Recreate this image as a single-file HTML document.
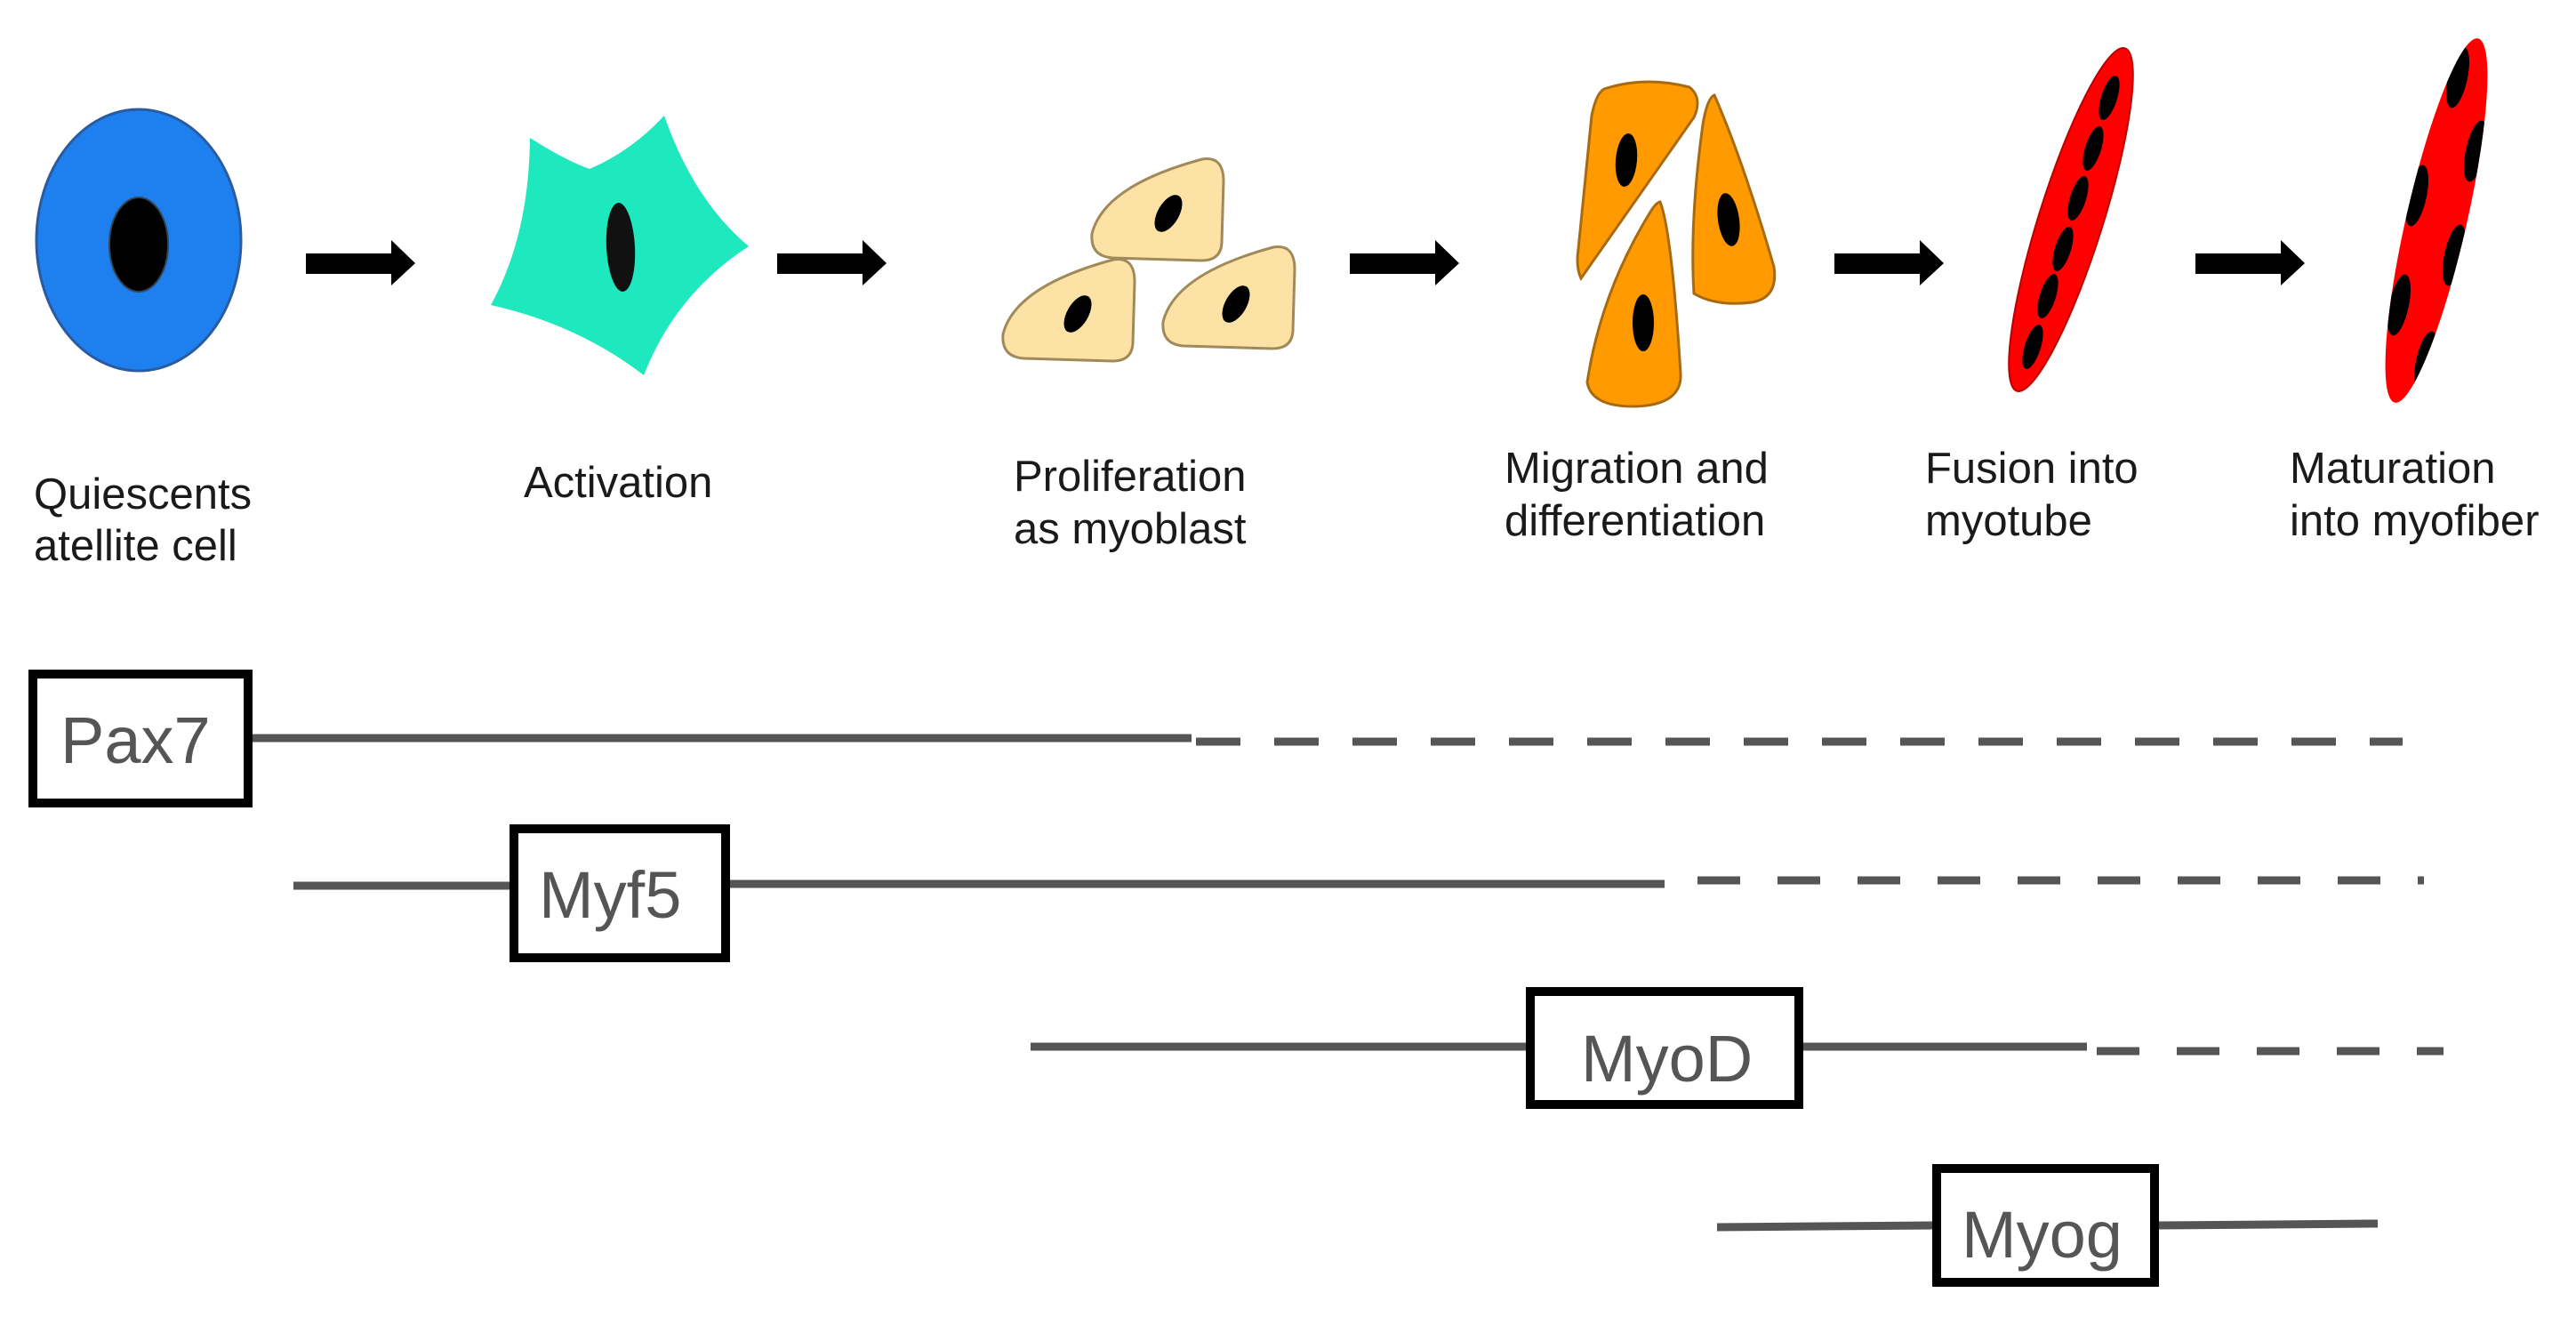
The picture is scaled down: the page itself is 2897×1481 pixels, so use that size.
<!DOCTYPE html>
<html><head><meta charset="utf-8"><style>
html,body{margin:0;padding:0;background:#fff;}
svg{display:block;}
.lbl{font-family:"Liberation Sans",sans-serif;font-size:49px;fill:#1a1a1a;}
.gene{font-family:"Liberation Sans",sans-serif;font-size:74px;fill:#555;}
</style></head><body>
<svg width="2897" height="1481" viewBox="0 0 2897 1481" xmlns="http://www.w3.org/2000/svg">
<defs>
<path id="arr" d="M0,285 L96,285 L96,270 L123,296 L96,321 L96,308 L0,308 Z" fill="#000"/>
<path id="ycell" d="M126,0 Q150,-4 150,25 L148,94 Q147,114 125,114 L25,111 Q0,109 2,84 Q15,30 126,0 Z" fill="#fde2a6" stroke="#a08a5a" stroke-width="3"/>
<clipPath id="fib"><ellipse cx="2740" cy="248" rx="34" ry="210" transform="rotate(12.9 2740 248)"/></clipPath>
</defs>
<ellipse cx="156" cy="270" rx="115" ry="147" fill="#1e80ee" stroke="#2a5aa0" stroke-width="3"/>
<ellipse cx="156" cy="275" rx="33" ry="53" fill="#000" stroke="#345" stroke-width="2"/>
<use href="#arr" x="344"/>
<use href="#arr" x="874"/>
<use href="#arr" x="1518"/>
<use href="#arr" x="2063"/>
<use href="#arr" x="2469"/>
<path d="M596,155 Q635,180 663,190 Q710,170 747,130 Q780,225 842,277 Q760,330 724,422 Q650,365 552,343 Q595,265 596,155 Z" fill="#1ee8bd"/>
<ellipse cx="698" cy="278" rx="16" ry="50" fill="#111" transform="rotate(-3 698 278)"/>
<use href="#ycell" x="1226" y="179"/>
<use href="#ycell" x="1126" y="292"/>
<use href="#ycell" x="1306" y="278"/>
<ellipse cx="1314" cy="240" rx="12" ry="23" fill="#000" transform="rotate(30 1314 240)"/>
<ellipse cx="1212" cy="353" rx="12" ry="23" fill="#000" transform="rotate(30 1212 353)"/>
<ellipse cx="1390" cy="342" rx="12" ry="23" fill="#000" transform="rotate(30 1390 342)"/>
<g fill="#ff9a00" stroke="#a86a10" stroke-width="3">
<path d="M1804,100 Q1850,85 1900,98 Q1915,110 1905,132 L1778,313 Q1772,300 1775,280 L1790,130 Q1795,105 1804,100 Z"/>
<path d="M1928,107 Q1960,180 1995,300 Q2000,335 1970,340 Q1930,345 1905,330 Q1900,250 1915,140 Q1920,110 1928,107 Z"/>
<path d="M1867,227 Q1880,260 1890,420 Q1892,455 1840,457 Q1790,458 1785,430 Q1800,330 1855,240 Q1862,228 1867,227 Z"/>
</g>
<ellipse cx="1829" cy="180" rx="12" ry="30" fill="#000" transform="rotate(5 1829 180)"/>
<ellipse cx="1944" cy="247" rx="12" ry="30" fill="#000" transform="rotate(-8 1944 247)"/>
<ellipse cx="1848" cy="363" rx="12" ry="32" fill="#000"/>
<ellipse cx="2329" cy="247" rx="36" ry="202" fill="#ff0000" stroke="#b00" stroke-width="2" transform="rotate(17.5 2329 247)"/>
<g fill="#000">
<ellipse cx="2372" cy="110" rx="9" ry="26" transform="rotate(17.5 2372 110)"/>
<ellipse cx="2354" cy="167" rx="9" ry="26" transform="rotate(17.5 2354 167)"/>
<ellipse cx="2337" cy="223" rx="9" ry="26" transform="rotate(17.5 2337 223)"/>
<ellipse cx="2320" cy="280" rx="9" ry="26" transform="rotate(17.5 2320 280)"/>
<ellipse cx="2303" cy="333" rx="9" ry="26" transform="rotate(17.5 2303 333)"/>
<ellipse cx="2286" cy="390" rx="9" ry="26" transform="rotate(17.5 2286 390)"/>
</g>
<ellipse cx="2740" cy="248" rx="34" ry="210" fill="#ff0000" transform="rotate(12.9 2740 248)"/>
<g fill="#000" clip-path="url(#fib)">
<ellipse cx="2764" cy="87" rx="11" ry="35" transform="rotate(12 2764 87)"/>
<ellipse cx="2784" cy="170" rx="11" ry="35" transform="rotate(12 2784 170)"/>
<ellipse cx="2718" cy="220" rx="11" ry="35" transform="rotate(12 2718 220)"/>
<ellipse cx="2760" cy="287" rx="11" ry="35" transform="rotate(12 2760 287)"/>
<ellipse cx="2698" cy="343" rx="11" ry="35" transform="rotate(12 2698 343)"/>
<ellipse cx="2728" cy="407" rx="11" ry="35" transform="rotate(12 2728 407)"/>
</g>
<text class="lbl" x="38" y="572">Quiescents</text>
<text class="lbl" x="38" y="630">atellite cell</text>
<text class="lbl" x="589" y="559">Activation</text>
<text class="lbl" x="1140" y="552">Proliferation</text>
<text class="lbl" x="1140" y="611">as myoblast</text>
<text class="lbl" x="1692" y="543">Migration and</text>
<text class="lbl" x="1692" y="602">differentiation</text>
<text class="lbl" x="2165" y="543">Fusion into</text>
<text class="lbl" x="2165" y="602">myotube</text>
<text class="lbl" x="2575" y="543">Maturation</text>
<text class="lbl" x="2575" y="602">into myofiber</text>
<g stroke="#555" stroke-width="9" fill="none">
<line x1="284" y1="830" x2="1340" y2="830"/>
<line x1="1345" y1="834" x2="2702" y2="834" stroke-dasharray="50 38"/>
<line x1="330" y1="996" x2="573" y2="996"/>
<line x1="821" y1="994" x2="1872" y2="994"/>
<line x1="1909" y1="990" x2="2726" y2="990" stroke-dasharray="48 42"/>
<line x1="1159" y1="1177" x2="1716" y2="1177"/>
<line x1="2028" y1="1177" x2="2347" y2="1177"/>
<line x1="2358" y1="1182" x2="2748" y2="1182" stroke-dasharray="48 42"/>
<line x1="1931" y1="1380" x2="2173" y2="1378"/>
<line x1="2428" y1="1378" x2="2674" y2="1376"/>
</g>
<g fill="#fff" stroke="#000" stroke-width="10">
<rect x="37" y="758" width="242" height="145"/>
<rect x="578" y="932" width="238" height="145"/>
<rect x="1721" y="1115" width="302" height="127"/>
<rect x="2178" y="1314" width="245" height="128"/>
</g>
<text class="gene" x="68" y="858">Pax7</text>
<text class="gene" x="606" y="1032">Myf5</text>
<text class="gene" x="1778" y="1216">MyoD</text>
<text class="gene" x="2206" y="1414">Myog</text>
</svg>
</body></html>
